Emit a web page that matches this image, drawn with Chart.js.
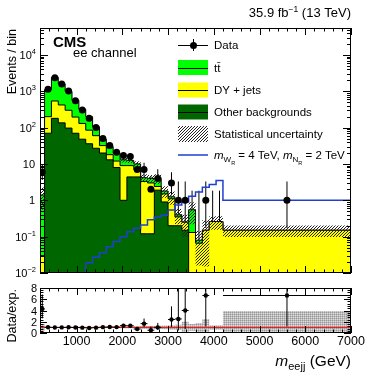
<!DOCTYPE html>
<html>
<head>
<meta charset="utf-8">
<title>m_eejj ee channel</title>
<script src="https://cdn.jsdelivr.net/npm/chart.js@4.4.1/dist/chart.umd.min.js"></script>
<style>
  html, body { margin: 0; padding: 0; background: #fff; }
  #wrap { position: relative; width: 390px; height: 375px; overflow: hidden; }
  canvas { position: absolute; left: 0; }
  #mainChart { top: 0; }
  #ratioChart { top: 280px; }
</style>
</head>
<body>
<div id="wrap">
  <canvas id="mainChart" width="390" height="280" style="width:390px;height:280px"></canvas>
  <canvas id="ratioChart" width="390" height="95" style="width:390px;height:95px"></canvas>
</div>
<script>
// ---------- data ----------
const binEdges = [200, 300, 450, 600, 750, 900, 1050, 1200, 1350, 1500, 1650, 1800, 1950, 2100,
  2250, 2400, 2550, 2700, 2850, 3000, 3150, 3300, 3450, 3600, 3750, 3900, 4050, 4200, 7000];

const dataCounts = [6, 1130, 2350, 1590, 1010, 550, 305, 180, 100, 50, 32, 21, 17, 16,
  7, 7, 2, 4, 0, 3, 1, 1, 0, 0, 1, 0, 0, 1];

// stacked backgrounds, per process (events / bin)
const otherBkg = [0.01, 70, 180, 135, 97, 70, 48, 36, 27, 20, 13, 8, 1.0, 4.4,
  4.4, 0.12, 0.12, 1.9, 0.9, 0.2, 0.2, 0.15, 0, 0, 0, 0, 0, 0];
const dyJets = [0.02, 130, 360, 285, 203, 125, 82, 49, 33, 12, 5, 4, 8, 4.6,
  2.6, 3.18, 2.88, 0.5, 0.6, 0.9, 0.15, 0.1, 0.13, 0.066, 0.15, 0.26, 0.26, 0.15];
const ttbar = [1.37, 900, 1860, 1180, 700, 365, 190, 115, 45, 16, 12, 8, 4, 3.5,
  3, 0.9, 1.0, 1.6, 0.3, 0.15, 0.05, 0, 0.42, 0.014, 0, 0, 0, 0];

// relative MC statistical uncertainty (hatched band / ratio band)
const statUnc = [0.6, 0.02, 0.015, 0.02, 0.02, 0.03, 0.04, 0.05, 0.06, 0.08, 0.1, 0.12, 0.15, 0.15,
  0.18, 0.25, 0.25, 0.3, 0.35, 0.4, 0.45, 0.6, 0.6, 0.8, 0.9, 0.4, 0.4, 0.35];
const ratioUnc = [0.6, 0.02, 0.015, 0.02, 0.02, 0.03, 0.04, 0.05, 0.06, 0.08, 0.1, 0.12, 0.15, 0.15,
  0.18, 0.25, 0.25, 0.3, 0.35, 0.4, 0.45, 1.0, 0.6, 0.8, 1.5, 0.4, 0.4, 2.9];

// signal m_WR = 4 TeV, m_NR = 2 TeV
const signal = [0, 0, 0.01, 0.01, 0.01, 0.01, 0.01, 0.019, 0.027, 0.036, 0.053, 0.073, 0.1, 0.137,
  0.17, 0.21, 0.29, 0.35, 0.39, 0.54, 0.74, 0.9, 1.3, 1.7, 2.3, 2.7, 3.5, 1.0];

const xTickLabels = [1000, 2000, 3000, 4000, 5000, 6000, 7000];
const yRatioLabels = [0, 2, 4, 6, 8];

// Garwood 68% intervals for small counts
const garwood = [[0, 1.841], [0.173, 3.3], [0.708, 4.638], [1.367, 5.918], [2.086, 7.163],
  [2.84, 8.382], [3.62, 9.584], [4.419, 10.77]];

// ---------- helpers ----------
const FONT = '"Liberation Sans", Arial, Helvetica, sans-serif';
const GREEN = '#00ff00', YELLOW = '#ffff00', DARK = '#006600', BLUE = '#1f3fd0';
const FLOOR = 1e-4;
const NONE = 'rgba(0,0,0,0)';

const centers = binEdges.slice(0, -1).map((e, i) => (e + binEdges[i + 1]) / 2);
const cumOther = otherBkg.slice();
const cumDY = otherBkg.map((v, i) => v + dyJets[i]);
const cumTotal = cumDY.map((v, i) => v + ttbar[i]);

function stepPoints(vals) {
  const pts = vals.map((v, i) => ({ x: binEdges[i], y: Math.max(v, FLOOR) }));
  pts.push({ x: binEdges[binEdges.length - 1], y: Math.max(vals[vals.length - 1], FLOOR) });
  return pts;
}
function poisson(n) {
  if (n < garwood.length) return garwood[n];
  const s = Math.sqrt(n);
  return [n - s, n + s];
}
function font(size, it, bold) {
  return (it ? 'italic ' : '') + (bold ? 'bold ' : '') + size + 'px ' + FONT;
}
// parts: {t, s, it, bold, dy}
function richText(ctx, parts, x, base, align) {
  let w = 0;
  parts.forEach(p => { ctx.font = font(p.s, p.it, p.bold); p.w = ctx.measureText(p.t).width; w += p.w; });
  let cx = align === 'right' ? x - w : x;
  ctx.textAlign = 'left';
  ctx.textBaseline = 'alphabetic';
  parts.forEach(p => { ctx.font = font(p.s, p.it, p.bold); ctx.fillText(p.t, cx, base + (p.dy || 0)); cx += p.w; });
}
function makePattern(tile, cells) {
  const c = document.createElement('canvas');
  c.width = c.height = tile;
  const g = c.getContext('2d');
  cells.forEach(([px, py, col]) => { g.fillStyle = col; g.fillRect(px, py, 1, 1); });
  return g.createPattern(c, 'repeat');
}
const hatch = makePattern(3, [[2, 0, '#222'], [1, 1, '#222'], [0, 2, '#222']]);
const dots = makePattern(2, [[0, 0, '#999'], [1, 0, '#bbb'], [0, 1, '#bbb'], [1, 1, '#dcdcdc']]);

function strokeBars(chart, bars) {
  const { ctx, chartArea: a, scales: { x, y } } = chart;
  ctx.save();
  ctx.beginPath();
  ctx.rect(a.left, a.top, a.right - a.left, a.bottom - a.top);
  ctx.clip();
  ctx.strokeStyle = '#000';
  ctx.lineWidth = 1;
  bars.forEach(b => {
    const px = x.getPixelForValue(b.x);
    ctx.beginPath();
    ctx.moveTo(px, y.getPixelForValue(Math.max(b.lo, FLOOR)));
    ctx.lineTo(px, y.getPixelForValue(b.hi));
    if (b.x0 !== undefined && b.y !== null) {
      const py = y.getPixelForValue(b.y);
      ctx.moveTo(x.getPixelForValue(b.x0), py);
      ctx.lineTo(x.getPixelForValue(b.x1), py);
    }
    ctx.stroke();
  });
  ctx.restore();
}

// main panel: data error bars sit underneath the stacked histograms
const barsUnder = {
  id: 'barsUnder',
  beforeDatasetsDraw(chart) {
    chart.data.datasets.forEach(ds => { if (ds.bars) strokeBars(chart, ds.bars); });
  }
};
// ratio panel: error bars just below their points
const barsOver = {
  id: 'barsOver',
  beforeDatasetDraw(chart, args) {
    const ds = chart.data.datasets[args.index];
    if (ds.bars) strokeBars(chart, ds.bars);
  }
};

function drawXTicks(ctx, a, x, majorLen, minorLen) {
  for (let v = 200; v <= 7000; v += 200) {
    const px = Math.round(x.getPixelForValue(v)) + 0.5;
    const len = v % 1000 === 0 ? majorLen : minorLen;
    ctx.moveTo(px, a.bottom); ctx.lineTo(px, a.bottom - len);
    ctx.moveTo(px, a.top); ctx.lineTo(px, a.top + len);
  }
}
function drawYTick(ctx, a, py, len) {
  py = Math.round(py) + 0.5;
  ctx.moveTo(a.left, py); ctx.lineTo(a.left + len, py);
  ctx.moveTo(a.right, py); ctx.lineTo(a.right - len, py);
}
function drawBox(ctx, a) {
  ctx.strokeRect(a.left + 0.5, a.top + 0.5, a.right - a.left - 1, a.bottom - a.top - 1);
}

// ---------- main panel ----------
const mainFrame = {
  id: 'mainFrame',
  afterDatasetsDraw(chart) {
    const { ctx, chartArea: a, scales: { x, y } } = chart;
    ctx.save();
    ctx.strokeStyle = '#000';
    ctx.lineWidth = 1;
    ctx.beginPath();
    drawXTicks(ctx, a, x, 7, 3.5);
    for (let d = -2; d <= 4; d++) {
      for (let m = 1; m <= 9; m++) {
        const v = m * Math.pow(10, d);
        if (v < y.min || v > y.max) continue;
        drawYTick(ctx, a, y.getPixelForValue(v), m === 1 ? 8 : 4);
      }
    }
    ctx.stroke();
    drawBox(ctx, a);

    // y tick labels
    ctx.fillStyle = '#000';
    for (let d = -2; d <= 4; d++) {
      const py = y.getPixelForValue(Math.pow(10, d));
      const base = py + 4;
      if (d === 0) richText(ctx, [{ t: '1', s: 11 }], 35, base, 'right');
      else if (d === 1) richText(ctx, [{ t: '10', s: 11 }], 35, base, 'right');
      else richText(ctx, [{ t: '10', s: 11 }, { t: d < 0 ? '\u2212' + (-d) : String(d), s: 7.5, dy: -5 }], 36, base, 'right');
    }

    // axis title
    ctx.save();
    ctx.translate(16, 29);
    ctx.rotate(-Math.PI / 2);
    richText(ctx, [{ t: 'Events / bin', s: 12.5 }], 0, 0, 'right');
    ctx.restore();

    // header texts
    richText(ctx, [{ t: '35.9 fb', s: 13 }, { t: '\u22121', s: 8.5, dy: -5 }, { t: ' (13 TeV)', s: 13 }], 351, 17, 'right');
    richText(ctx, [{ t: 'CMS', s: 15, bold: true }], 53, 47, 'left');
    richText(ctx, [{ t: 'ee channel', s: 13 }], 73, 57, 'left');

    // legend
    const lx0 = 178, lx1 = 208, tx = 214;
    const rows = [45, 67.5, 90, 112, 134, 155];
    // Data
    ctx.beginPath();
    ctx.moveTo(lx0, rows[0] + 0.5); ctx.lineTo(lx1, rows[0] + 0.5);
    ctx.moveTo(193.5, rows[0] - 6); ctx.lineTo(193.5, rows[0] + 6);
    ctx.stroke();
    ctx.beginPath(); ctx.arc(193.5, rows[0] + 0.5, 3.5, 0, Math.PI * 2); ctx.fill();
    richText(ctx, [{ t: 'Data', s: 11.5 }], tx, rows[0] + 4, 'left');
    // filled boxes
    [[GREEN, 1, 't\u0074\u0304'], [YELLOW, 2, 'DY + jets'], [DARK, 3, 'Other backgrounds']].forEach(([col, r, label]) => {
      const cy = rows[r];
      ctx.fillStyle = col;
      ctx.fillRect(lx0, cy - 7.5, lx1 - lx0, 15);
      ctx.beginPath(); ctx.moveTo(lx0, Math.round(cy) + 0.5); ctx.lineTo(lx1, Math.round(cy) + 0.5); ctx.stroke();
      ctx.fillStyle = '#000';
      richText(ctx, [{ t: label, s: 11.5 }], tx, cy + 4, 'left');
    });
    ctx.fillStyle = hatch;
    ctx.fillRect(lx0, rows[4] - 8, lx1 - lx0, 16);
    ctx.fillStyle = '#000';
    richText(ctx, [{ t: 'Statistical uncertainty', s: 11.5 }], tx, rows[4] + 4, 'left');
    ctx.strokeStyle = BLUE;
    ctx.lineWidth = 1.5;
    ctx.beginPath(); ctx.moveTo(lx0, rows[5]); ctx.lineTo(lx1, rows[5]); ctx.stroke();
    richText(ctx, [
      { t: 'm', s: 11.5, it: true }, { t: 'W', s: 8, dy: 3 }, { t: 'R', s: 5.5, dy: 6 },
      { t: ' = 4 TeV, ', s: 11.5 },
      { t: 'm', s: 11.5, it: true }, { t: 'N', s: 8, dy: 3 }, { t: 'R', s: 5.5, dy: 6 },
      { t: ' = 2 TeV', s: 11.5 }
    ], tx, rows[5] + 4, 'left');
    ctx.restore();
  }
};

const uncUp = cumTotal.map((v, i) => v * (1 + statUnc[i]));
const uncDown = cumTotal.map((v, i) => v * (1 - statUnc[i]));

const dataPoints = centers.map((c, i) => ({ x: c, y: dataCounts[i] > 0 ? dataCounts[i] : null }));
const dataBars = centers.map((c, i) => {
  const [lo, hi] = poisson(dataCounts[i]);
  return { x: c, lo: lo, hi: hi };
});

const stepDefaults = { stepped: true, pointRadius: 0, tension: 0 };

new Chart(document.getElementById('mainChart'), {
  type: 'line',
  data: {
    datasets: [
      { ...stepDefaults, label: 'ttbar', data: stepPoints(cumTotal), fill: 'start', backgroundColor: GREEN, borderColor: '#000', borderWidth: 1, order: 10 },
      { ...stepDefaults, label: 'DY', data: stepPoints(cumDY), fill: 'start', backgroundColor: YELLOW, borderColor: '#000', borderWidth: 1, order: 9 },
      { ...stepDefaults, label: 'Other', data: stepPoints(cumOther), fill: 'start', backgroundColor: DARK, borderColor: '#000', borderWidth: 1, order: 8 },
      { ...stepDefaults, label: 'uncUp', data: stepPoints(uncUp), fill: false, borderColor: NONE, borderWidth: 0, order: 7 },
      { ...stepDefaults, label: 'uncDown', data: stepPoints(uncDown), fill: '-1', backgroundColor: hatch, borderColor: NONE, borderWidth: 0, order: 6 },
      { ...stepDefaults, label: 'signal', data: stepPoints(signal), fill: false, borderColor: BLUE, borderWidth: 1.5, order: 5 },
      { label: 'Data', data: dataPoints, showLine: false, pointRadius: 3.5, pointBackgroundColor: '#000', pointBorderWidth: 0, bars: dataBars, order: 1 }
    ]
  },
  options: {
    responsive: false,
    animation: false,
    events: [],
    layout: { padding: { left: 40, right: 39, top: 28, bottom: 7 } },
    scales: {
      x: { type: 'linear', min: 200, max: 7000, display: false },
      y: { type: 'logarithmic', min: 0.01, max: 55000, display: false }
    },
    plugins: { legend: { display: false }, tooltip: { enabled: false } }
  },
  plugins: [barsUnder, mainFrame]
});

// ---------- ratio panel ----------
const ratioFrame = {
  id: 'ratioFrame',
  afterDatasetsDraw(chart) {
    const { ctx, chartArea: a, scales: { x, y } } = chart;
    ctx.save();
    ctx.strokeStyle = '#000';
    ctx.lineWidth = 1;
    ctx.beginPath();
    drawXTicks(ctx, a, x, 7, 3.5);
    for (let v = 0; v <= 8.0001; v += 0.4) {
      const major = Math.abs(v / 2 - Math.round(v / 2)) < 1e-6;
      drawYTick(ctx, a, y.getPixelForValue(v), major ? 7 : 3.5);
    }
    ctx.stroke();
    drawBox(ctx, a);

    ctx.fillStyle = '#000';
    yRatioLabels.forEach(v => {
      richText(ctx, [{ t: String(v), s: 11 }], 37, y.getPixelForValue(v) + 4, 'right');
    });
    ctx.textAlign = 'center';
    ctx.font = font(12.5);
    xTickLabels.forEach(v => {
      ctx.fillText(String(v), x.getPixelForValue(v), a.bottom + 11.5);
    });

    ctx.save();
    ctx.translate(16, 9);
    ctx.rotate(-Math.PI / 2);
    richText(ctx, [{ t: 'Data/exp.', s: 12.5 }], 0, 0, 'right');
    ctx.restore();

    richText(ctx, [{ t: 'm', s: 15.5, it: true }, { t: 'eejj', s: 11, dy: 4 }, { t: ' (GeV)', s: 15.5 }], 351, 86, 'right');
    ctx.restore();
  }
};

const bandUp = ratioUnc.map(u => 1 + u);
const bandDown = ratioUnc.map(u => Math.max(1 - u, 0));
const ratioPoints = centers.map((c, i) => ({ x: c, y: dataCounts[i] > 0 ? dataCounts[i] / cumTotal[i] : null }));
const ratioBars = centers.map((c, i) => {
  if (dataCounts[i] === 0) return null;
  const [lo, hi] = poisson(dataCounts[i]);
  return {
    x: c, lo: lo / cumTotal[i], hi: hi / cumTotal[i],
    x0: binEdges[i], x1: binEdges[i + 1], y: dataCounts[i] / cumTotal[i]
  };
}).filter(b => b);

new Chart(document.getElementById('ratioChart'), {
  type: 'line',
  data: {
    datasets: [
      { ...stepDefaults, label: 'bandUp', data: stepPoints(bandUp), fill: false, borderColor: NONE, borderWidth: 0, order: 10 },
      { ...stepDefaults, label: 'bandDown', data: stepPoints(bandDown), fill: '-1', backgroundColor: dots, borderColor: NONE, borderWidth: 0, order: 9 },
      { label: 'one', data: [{ x: 200, y: 1 }, { x: 7000, y: 1 }], pointRadius: 0, borderColor: '#ff0000', borderWidth: 1, fill: false, order: 5 },
      { label: 'ratio', data: ratioPoints, showLine: false, pointRadius: 2.2, pointBackgroundColor: '#000', pointBorderWidth: 0, bars: ratioBars, order: 1 }
    ]
  },
  options: {
    responsive: false,
    animation: false,
    events: [],
    layout: { padding: { left: 40, right: 39, top: 8, bottom: 42 } },
    scales: {
      x: { type: 'linear', min: 200, max: 7000, display: false },
      y: { type: 'linear', min: 0, max: 8, display: false }
    },
    plugins: { legend: { display: false }, tooltip: { enabled: false } }
  },
  plugins: [barsOver, ratioFrame]
});
</script>
</body>
</html>
